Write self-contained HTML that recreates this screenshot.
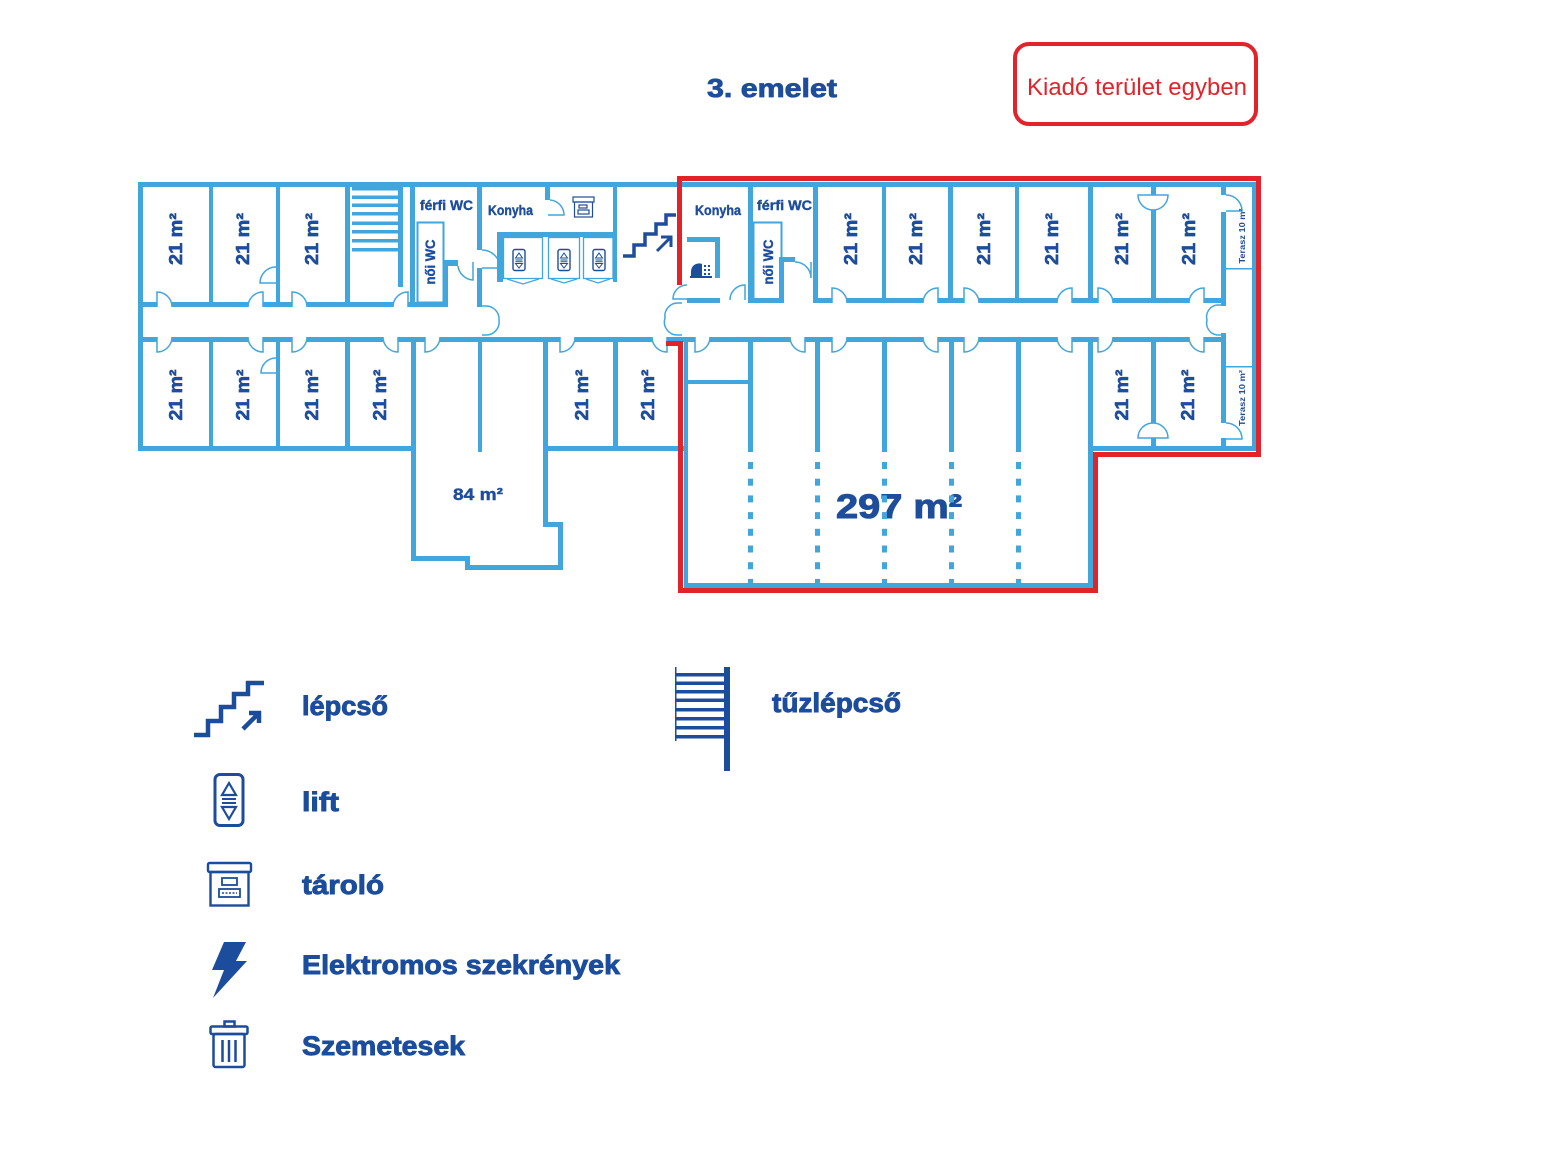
<!DOCTYPE html>
<html><head><meta charset="utf-8">
<style>
html,body{margin:0;padding:0;background:#fff;}
svg{display:block;}
text{font-family:"Liberation Sans",sans-serif;font-weight:bold;}
</style></head><body>
<svg width="1547" height="1158" viewBox="0 0 1547 1158" xmlns="http://www.w3.org/2000/svg">
<rect width="1547" height="1158" fill="#fff"/>

<text x="707" y="97" font-size="26" textLength="130" lengthAdjust="spacingAndGlyphs" fill="#1E4D9B" stroke="#1E4D9B" stroke-width="0.8">3. emelet</text>
<rect x="1015" y="44" width="241" height="80" rx="14" fill="none" stroke="#E3232B" stroke-width="4"/>
<text x="1027" y="95" font-size="24" style="font-weight:normal" textLength="220" lengthAdjust="spacingAndGlyphs" fill="#E3232B">Kiadó terület egyben</text>

<text x="836" y="518" font-size="34" textLength="126" lengthAdjust="spacingAndGlyphs" fill="#1E4D9B" stroke="#1E4D9B" stroke-width="1">297 m²</text>

<g fill="#41A6DC">
<rect x="138" y="182" width="1119" height="5"/>
<rect x="138" y="182" width="5" height="269"/>
<rect x="138" y="446" width="278" height="5"/>
<rect x="1252" y="182" width="5" height="269"/>
<rect x="1088" y="446" width="169" height="5"/>
<rect x="410" y="182" width="5" height="125"/>
<rect x="411" y="337" width="5" height="224"/>
<rect x="411" y="556" width="59" height="5"/>
<rect x="465" y="556" width="5" height="14"/>
<rect x="465" y="565" width="98" height="5"/>
<rect x="558" y="522" width="5" height="48"/>
<rect x="543" y="522" width="20" height="5"/>
<rect x="543" y="337" width="5" height="190"/>
<rect x="478" y="337" width="4" height="115"/>
<rect x="543" y="446" width="141" height="5"/>
<rect x="613" y="337" width="5" height="114"/>
<rect x="138" y="302" width="310" height="5"/>
<rect x="138" y="337" width="1088" height="5"/>
<rect x="687" y="298" width="33" height="5"/>
<rect x="748" y="298" width="35" height="5"/>
<rect x="813" y="298" width="413" height="5"/>
<rect x="209" y="182" width="4" height="125"/>
<rect x="276" y="182" width="4" height="125"/>
<rect x="345" y="182" width="5" height="125"/>
<rect x="398" y="187" width="5" height="100"/>
<rect x="352" y="187" width="46" height="3.5"/>
<rect x="352" y="195.5" width="46" height="3.5"/>
<rect x="352" y="203.5" width="46" height="3.5"/>
<rect x="352" y="212" width="46" height="3.5"/>
<rect x="352" y="221.5" width="46" height="3.5"/>
<rect x="352" y="230" width="46" height="3.5"/>
<rect x="352" y="239" width="46" height="3.5"/>
<rect x="352" y="248" width="46" height="3.5"/>
<rect x="209" y="337" width="4" height="114"/>
<rect x="276" y="337" width="4" height="114"/>
<rect x="345" y="337" width="5" height="114"/>
<rect x="477" y="182" width="5" height="68"/>
<rect x="477" y="268" width="5" height="39"/>
<rect x="443" y="260" width="15" height="6"/>
<rect x="443" y="260" width="5" height="47"/>
<rect x="545" y="182" width="5" height="18"/>
<rect x="497" y="232" width="120" height="5"/>
<rect x="613" y="182" width="4" height="100"/>
<rect x="497" y="232" width="6" height="50"/>
<rect x="748" y="182" width="5" height="121"/>
<rect x="687" y="237" width="33" height="5"/>
<rect x="715" y="237" width="5" height="41"/>
<rect x="779" y="262" width="5" height="41"/>
<rect x="779" y="257" width="16" height="5"/>
<rect x="813" y="182" width="5" height="121"/>
<rect x="882" y="182" width="4" height="121"/>
<rect x="948" y="182" width="5" height="121"/>
<rect x="1015" y="182" width="4" height="121"/>
<rect x="1088" y="182" width="5" height="121"/>
<rect x="1151" y="182" width="5" height="13"/>
<rect x="1151" y="210" width="5" height="93"/>
<rect x="1221" y="182" width="5" height="13"/>
<rect x="1221" y="212" width="5" height="94"/>
<rect x="1221" y="333" width="5" height="90"/>
<rect x="1221" y="438" width="5" height="13"/>
<rect x="1151" y="337" width="5" height="86"/>
<rect x="1151" y="438" width="5" height="13"/>
<rect x="1226" y="268" width="26" height="1.5"/>
<rect x="1226" y="366" width="26" height="1.5"/>
<rect x="684" y="337" width="4" height="251"/>
<rect x="684" y="583" width="409" height="5"/>
<rect x="1088" y="337" width="5" height="251"/>
<rect x="688" y="380" width="60" height="4"/>
<rect x="748" y="337" width="5" height="115"/>
<rect x="815" y="337" width="5" height="115"/>
<rect x="882" y="337" width="5" height="115"/>
<rect x="949" y="337" width="5" height="115"/>
<rect x="1016" y="337" width="5" height="115"/>
</g>

<g fill="#41A6DC">
<rect x="748" y="462" width="5" height="7"/><rect x="748" y="478.7" width="5" height="7"/><rect x="748" y="495.4" width="5" height="7"/><rect x="748" y="512.1" width="5" height="7"/><rect x="748" y="528.8" width="5" height="7"/><rect x="748" y="545.5" width="5" height="7"/><rect x="748" y="562.2" width="5" height="7"/><rect x="748" y="578.9" width="5" height="7"/>
<rect x="815" y="462" width="5" height="7"/><rect x="815" y="478.7" width="5" height="7"/><rect x="815" y="495.4" width="5" height="7"/><rect x="815" y="512.1" width="5" height="7"/><rect x="815" y="528.8" width="5" height="7"/><rect x="815" y="545.5" width="5" height="7"/><rect x="815" y="562.2" width="5" height="7"/><rect x="815" y="578.9" width="5" height="7"/>
<rect x="882" y="462" width="5" height="7"/><rect x="882" y="478.7" width="5" height="7"/><rect x="882" y="495.4" width="5" height="7"/><rect x="882" y="512.1" width="5" height="7"/><rect x="882" y="528.8" width="5" height="7"/><rect x="882" y="545.5" width="5" height="7"/><rect x="882" y="562.2" width="5" height="7"/><rect x="882" y="578.9" width="5" height="7"/>
<rect x="949" y="462" width="5" height="7"/><rect x="949" y="478.7" width="5" height="7"/><rect x="949" y="495.4" width="5" height="7"/><rect x="949" y="512.1" width="5" height="7"/><rect x="949" y="528.8" width="5" height="7"/><rect x="949" y="545.5" width="5" height="7"/><rect x="949" y="562.2" width="5" height="7"/><rect x="949" y="578.9" width="5" height="7"/>
<rect x="1016" y="462" width="5" height="7"/><rect x="1016" y="478.7" width="5" height="7"/><rect x="1016" y="495.4" width="5" height="7"/><rect x="1016" y="512.1" width="5" height="7"/><rect x="1016" y="528.8" width="5" height="7"/><rect x="1016" y="545.5" width="5" height="7"/><rect x="1016" y="562.2" width="5" height="7"/><rect x="1016" y="578.9" width="5" height="7"/>
</g>

<g fill="#fff">
<rect x="157" y="301" width="15" height="7"/>
<rect x="248" y="301" width="15" height="7"/>
<rect x="292" y="301" width="15" height="7"/>
<rect x="393" y="301" width="15" height="7"/>
<rect x="157" y="336" width="15" height="7"/>
<rect x="248" y="336" width="15" height="7"/>
<rect x="292" y="336" width="15" height="7"/>
<rect x="383" y="336" width="15" height="7"/>
<rect x="425" y="336" width="15" height="7"/>
<rect x="560" y="336" width="15" height="7"/>
<rect x="652" y="336" width="15" height="7"/>
<rect x="695" y="336" width="15" height="7"/>
<rect x="790" y="336" width="15" height="7"/>
<rect x="832" y="336" width="15" height="7"/>
<rect x="923" y="336" width="15" height="7"/>
<rect x="964" y="336" width="15" height="7"/>
<rect x="1057" y="336" width="15" height="7"/>
<rect x="1098" y="336" width="15" height="7"/>
<rect x="1189" y="336" width="15" height="7"/>
<rect x="832" y="297" width="15" height="7"/>
<rect x="923" y="297" width="15" height="7"/>
<rect x="964" y="297" width="15" height="7"/>
<rect x="1057" y="297" width="15" height="7"/>
<rect x="1098" y="297" width="15" height="7"/>
<rect x="1189" y="297" width="15" height="7"/>
</g>

<g fill="none" stroke="#41A6DC" stroke-width="1.5">
<path d="M157,307V292A15,15 0 0 1 172,307"/>
<path d="M263,307V292A15,15 0 0 0 248,307"/>
<path d="M292,307V292A15,15 0 0 1 307,307"/>
<path d="M408,307V292A15,15 0 0 0 393,307"/>
<path d="M157,337V352A15,15 0 0 0 172,337"/>
<path d="M263,337V352A15,15 0 0 1 248,337"/>
<path d="M292,337V352A15,15 0 0 0 307,337"/>
<path d="M398,337V352A15,15 0 0 1 383,337"/>
<path d="M425,337V352A15,15 0 0 0 440,337"/>
<path d="M560,337V352A15,15 0 0 0 575,337"/>
<path d="M667,337V352A15,15 0 0 1 652,337"/>
<path d="M695,337V352A15,15 0 0 0 710,337"/>
<path d="M805,337V352A15,15 0 0 1 790,337"/>
<path d="M832,337V352A15,15 0 0 0 847,337"/>
<path d="M938,337V352A15,15 0 0 1 923,337"/>
<path d="M964,337V352A15,15 0 0 0 979,337"/>
<path d="M1072,337V352A15,15 0 0 1 1057,337"/>
<path d="M1098,337V352A15,15 0 0 0 1113,337"/>
<path d="M1204,337V352A15,15 0 0 1 1189,337"/>
<path d="M832,303V288A15,15 0 0 1 847,303"/>
<path d="M938,303V288A15,15 0 0 0 923,303"/>
<path d="M964,303V288A15,15 0 0 1 979,303"/>
<path d="M1072,303V288A15,15 0 0 0 1057,303"/>
<path d="M1098,303V288A15,15 0 0 1 1113,303"/>
<path d="M1204,303V288A15,15 0 0 0 1189,303"/>
<path d="M276,267A16,16 0 0 0 260,283H276"/>
<path d="M276,358A15,15 0 0 0 261,373H276"/>
<path d="M473,262V280A16,16 0 0 1 458,266"/>
<path d="M482,250A18,18 0 0 1 500,268H482"/>
<path d="M550,200A15,15 0 0 1 564,215H548"/>
<path d="M482,306H486A13,13 0 0 1 499,320A13,13 0 0 1 486,335H482"/>
<path d="M682,303H678A13,13 0 0 0 665,318A13,13 0 0 0 678,335H682"/>
<path d="M687,285A14,14 0 0 0 673,299H687"/>
<path d="M745,300V285A15,15 0 0 0 730,300"/>
<path d="M795,262A16,16 0 0 1 811,278V262"/>
<path d="M1221,305H1217A12,12 0 0 0 1207,320A12,12 0 0 0 1217,335H1221"/>
<path d="M1138,195H1168A15,15 0 0 1 1138,195Z"/>
<path d="M1138,438H1168A15,15 0 0 0 1138,438Z"/>
<path d="M1226,195A16,16 0 0 1 1242,211H1226"/>
<path d="M1226,423A16,16 0 0 1 1242,439H1226"/>
<rect x="417.5" y="222.5" width="26" height="80" stroke-width="2"/>
<rect x="753.5" y="222.5" width="28" height="78" stroke-width="2"/>
<rect x="503.5" y="237.5" width="39" height="41" stroke-width="1.3"/>
<rect x="548.5" y="237.5" width="31" height="41" stroke-width="1.3"/>
<rect x="583.5" y="237.5" width="29.5" height="41" stroke-width="1.3"/>
<path d="M507,279L523,284L539,279M551,279L564,283L577,279M586,279L598,283L610,279" stroke-width="1.2"/>
</g>

<path d="M666,343.5H680.5V590.5H1095.5V454.5H1258.5V178.5H679.5V285" fill="none" stroke="#E3232B" stroke-width="5"/>

<g fill="none" stroke="#1E4D9B">
<polyline points="623,256 634,256 634,245 645,245 645,234 656,234 656,224 666,224 666,215 676,215" stroke-width="3.5"/>
<path d="M657,251L670,238M661,237H671V247" stroke-width="3"/>
<g stroke-width="1.2">
<rect x="573" y="197" width="21" height="5"/>
<rect x="574.5" y="202" width="18" height="15"/>
<rect x="579" y="205" width="8" height="3"/>
<rect x="578" y="210" width="11" height="4"/>
</g>
<g stroke-width="1.4">
<rect x="513" y="249.5" width="12" height="21" rx="2"/>
<path d="M519,253L522.5,258H515.5ZM515.5,260H522.5M515.5,261.8H522.5M515.5,263.5H522.5L519,268Z" stroke-width="1"/>
<rect x="558" y="249.5" width="12" height="21" rx="2"/>
<path d="M564,253L567.5,258H560.5ZM560.5,260H567.5M560.5,261.8H567.5M560.5,263.5H567.5L564,268Z" stroke-width="1"/>
<rect x="593" y="249.5" width="12" height="21" rx="2"/>
<path d="M599,253L602.5,258H595.5ZM595.5,260H602.5M595.5,261.8H602.5M595.5,263.5H602.5L599,268Z" stroke-width="1"/>
</g>
</g>
<g fill="#1E4D9B">
<path d="M691,276V271A8,8 0 0 1 702,264V276Z"/>
<rect x="690" y="276" width="22" height="2"/>
<rect x="704" y="265" width="2" height="2"/><rect x="708" y="265" width="2" height="2"/>
<rect x="704" y="269" width="2" height="2"/><rect x="708" y="269" width="2" height="2"/>
<rect x="704" y="273" width="2" height="2"/><rect x="708" y="273" width="2" height="2"/>
</g>

<g fill="#1E4D9B" stroke="#1E4D9B" stroke-width="0.6" font-size="18" text-anchor="middle">
<text transform="translate(182,239) rotate(-90)" textLength="52" lengthAdjust="spacingAndGlyphs">21 m²</text>
<text transform="translate(249,239) rotate(-90)" textLength="52" lengthAdjust="spacingAndGlyphs">21 m²</text>
<text transform="translate(318,239) rotate(-90)" textLength="52" lengthAdjust="spacingAndGlyphs">21 m²</text>
<text transform="translate(857,239) rotate(-90)" textLength="52" lengthAdjust="spacingAndGlyphs">21 m²</text>
<text transform="translate(922,239) rotate(-90)" textLength="52" lengthAdjust="spacingAndGlyphs">21 m²</text>
<text transform="translate(990,239) rotate(-90)" textLength="52" lengthAdjust="spacingAndGlyphs">21 m²</text>
<text transform="translate(1058,239) rotate(-90)" textLength="52" lengthAdjust="spacingAndGlyphs">21 m²</text>
<text transform="translate(1128,239) rotate(-90)" textLength="52" lengthAdjust="spacingAndGlyphs">21 m²</text>
<text transform="translate(1195,239) rotate(-90)" textLength="52" lengthAdjust="spacingAndGlyphs">21 m²</text>
<text transform="translate(182,395) rotate(-90)" textLength="51" lengthAdjust="spacingAndGlyphs">21 m²</text>
<text transform="translate(249,395) rotate(-90)" textLength="51" lengthAdjust="spacingAndGlyphs">21 m²</text>
<text transform="translate(318,395) rotate(-90)" textLength="51" lengthAdjust="spacingAndGlyphs">21 m²</text>
<text transform="translate(386,395) rotate(-90)" textLength="51" lengthAdjust="spacingAndGlyphs">21 m²</text>
<text transform="translate(588,395) rotate(-90)" textLength="51" lengthAdjust="spacingAndGlyphs">21 m²</text>
<text transform="translate(654,395) rotate(-90)" textLength="51" lengthAdjust="spacingAndGlyphs">21 m²</text>
<text transform="translate(1128,395) rotate(-90)" textLength="51" lengthAdjust="spacingAndGlyphs">21 m²</text>
<text transform="translate(1194,395) rotate(-90)" textLength="51" lengthAdjust="spacingAndGlyphs">21 m²</text>
</g>
<g fill="#1E4D9B" font-size="8" text-anchor="middle">
<text transform="translate(1245,236) rotate(-90)" textLength="55" lengthAdjust="spacingAndGlyphs">Terasz 10 m²</text>
<text transform="translate(1245,398) rotate(-90)" textLength="56" lengthAdjust="spacingAndGlyphs">Terasz 10 m²</text>
</g>
<g fill="#1E4D9B" stroke="#1E4D9B" stroke-width="0.4" font-size="13.5">
<text x="420" y="210" textLength="53" lengthAdjust="spacingAndGlyphs">férfi WC</text>
<text x="757" y="210" textLength="55" lengthAdjust="spacingAndGlyphs">férfi WC</text>
<text x="488" y="215" textLength="45" lengthAdjust="spacingAndGlyphs">Konyha</text>
<text x="695" y="215" textLength="46" lengthAdjust="spacingAndGlyphs">Konyha</text>
<text transform="translate(435,262) rotate(-90)" text-anchor="middle" textLength="45" lengthAdjust="spacingAndGlyphs">női WC</text>
<text transform="translate(773,262) rotate(-90)" text-anchor="middle" textLength="45" lengthAdjust="spacingAndGlyphs">női WC</text>
<text x="453" y="500" font-size="16.5" textLength="50" lengthAdjust="spacingAndGlyphs">84 m²</text>
</g>

<g fill="none" stroke="#1C4C9C">
<polyline points="194,735 208,735 208,721 221,721 221,707 234,707 234,694 248,694 248,683 264,683" stroke-width="4.5"/>
<path d="M243,729L257,715M249,713H259V723" stroke-width="4.5"/>
<rect x="215" y="774.5" width="28" height="51" rx="5" stroke-width="3"/>
<path d="M229,783L236,795H222Z" stroke-width="2.2"/>
<path d="M222,799H236M222,803H236" stroke-width="2"/>
<path d="M222,807H236L229,819Z" stroke-width="2.2"/>
<g stroke-width="2.4">
<rect x="208" y="863" width="43" height="9" rx="1.5"/>
<rect x="210.5" y="872" width="38" height="33.5"/>
</g>
<g stroke-width="1.8">
<rect x="222" y="878" width="15" height="7"/>
<rect x="219" y="889" width="21" height="8"/>
</g>
<path d="M222,893H237" stroke-width="1.5" stroke-dasharray="2,1.5"/>
<g stroke-width="2.5">
<rect x="224.5" y="1021.5" width="10" height="5"/>
<rect x="210.5" y="1026.5" width="37" height="7.5" rx="1.5"/>
<rect x="213.5" y="1034" width="31" height="33" rx="2"/>
<path d="M222.5,1040V1062M229,1040V1062M235.5,1040V1062"/>
</g>
</g>
<polygon points="224,942 246,942 236,961 247,961 213,998 224,970 212,970" fill="#1C4C9C"/>

<g fill="#1C4C9C">
<rect x="724" y="667" width="6" height="104"/>
<rect x="675" y="667" width="1.5" height="74"/>
<rect x="675" y="673" width="49" height="3.5"/>
<rect x="675" y="681.5" width="49" height="3.5"/>
<rect x="675" y="690" width="49" height="3.5"/>
<rect x="675" y="698.5" width="49" height="3.5"/>
<rect x="675" y="708" width="49" height="3.5"/>
<rect x="675" y="717" width="49" height="3.5"/>
<rect x="675" y="726" width="49" height="3.5"/>
<rect x="675" y="735" width="49" height="3.5"/>
</g>

<g fill="#1C4C9C" stroke="#1C4C9C" stroke-width="0.9" font-size="27">
<text x="302" y="715" textLength="86" lengthAdjust="spacingAndGlyphs">lépcső</text>
<text x="302" y="811" textLength="37" lengthAdjust="spacingAndGlyphs">lift</text>
<text x="302" y="894" textLength="82" lengthAdjust="spacingAndGlyphs">tároló</text>
<text x="302" y="974" textLength="318" lengthAdjust="spacingAndGlyphs">Elektromos szekrények</text>
<text x="302" y="1055" textLength="163" lengthAdjust="spacingAndGlyphs">Szemetesek</text>
<text x="772" y="712" textLength="129" lengthAdjust="spacingAndGlyphs">tűzlépcső</text>
</g>
</svg>
</body></html>
